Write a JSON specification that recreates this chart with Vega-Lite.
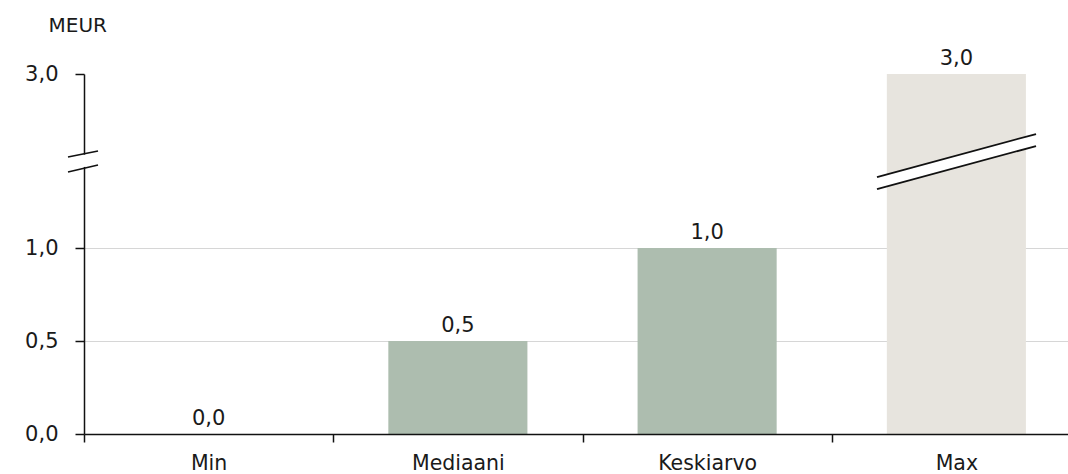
{
  "$schema": "https://vega.github.io/schema/vega-lite/v6.json",
  "autosize": {"type": "none"},
  "padding": {"left": 84, "top": 74, "right": 0, "bottom": 40},
  "width": 984,
  "height": 360,
  "background": "white",
  "config": {
    "view": {"stroke": null},
    "font": "DejaVu Sans",
    "locale": {"number": {"decimal": ",", "thousands": " ", "grouping": [3], "currency": ["", " €"]}}
  },
  "data": {"values": [
    {"stat": "Min", "value": 0.0},
    {"stat": "Mediaani", "value": 0.5},
    {"stat": "Keskiarvo", "value": 1.0},
    {"stat": "Max", "value": 3.0}
  ]},
  "encoding": {
    "x": {
      "field": "stat", "type": "nominal", "sort": null,
      "scale": {"range": [0, 997], "paddingInner": 0, "paddingOuter": 0},
      "axis": {
        "title": null, "labelAngle": 0, "tickBand": "extent", "tickSize": 8,
        "labelPadding": 11, "labelFontSize": 20.5, "labelColor": "#1a1a1a",
        "domainColor": "#111111", "domainWidth": 1.5, "tickColor": "#111111", "tickWidth": 1.5,
        "zindex": 1
      }
    }
  },
  "layer": [
    {
      "mark": {"type": "bar", "width": {"band": 0.558}},
      "encoding": {
        "y": {
          "field": "value", "type": "quantitative",
          "scale": {"domain": [0, 1, 3], "range": [360, 174, 0], "nice": false, "zero": false},
          "axis": {
            "title": "MEUR", "titleAngle": 0, "titleAlign": "left", "titleBaseline": "alphabetic",
            "titleX": -36, "titleY": -43, "titleFontSize": 20, "titleFontWeight": "normal", "titleColor": "#1a1a1a",
            "values": [0, 0.5, 1, 3], "format": ".1f",
            "tickSize": 9, "labelPadding": 17, "labelFontSize": 21, "labelColor": "#1a1a1a",
            "domainColor": "#111111", "domainWidth": 1.5, "tickColor": "#111111", "tickWidth": 1.5,
            "grid": true, "gridColor": "#d6d6d6", "gridWidth": 1,
            "gridOpacity": {"condition": {"test": "datum.value === 3 || datum.value === 0", "value": 0}, "value": 1},
            "zindex": 0
          }
        },
        "color": {"condition": {"test": "datum.stat === 'Max'", "value": "#e7e4de"}, "value": "#adbdaf"}
      }
    },
    {
      "mark": {"type": "text", "baseline": "alphabetic", "dy": -9, "fontSize": 21, "color": "#1a1a1a"},
      "encoding": {
        "y": {"field": "value", "type": "quantitative"},
        "text": {"field": "value", "type": "quantitative", "format": ".1f"}
      }
    },
    {
      "data": {"values": [{}]},
      "mark": {"type": "rule", "color": "white", "strokeWidth": 11.5, "strokeCap": "butt"},
      "encoding": {
        "x": {"datum": "Max", "type": "nominal", "bandPosition": 0.1815},
        "x2": {"datum": "Max", "bandPosition": 0.8195},
        "y": {"datum": 1.747, "type": "quantitative"},
        "y2": {"datum": 2.241}
      }
    },
    {
      "data": {"values": [{}]},
      "mark": {"type": "rule", "color": "#111111", "strokeWidth": 1.8},
      "encoding": {
        "x": {"datum": "Max", "type": "nominal", "bandPosition": 0.1815},
        "x2": {"datum": "Max", "bandPosition": 0.8195},
        "y": {"datum": 1.816, "type": "quantitative"},
        "y2": {"datum": 2.31}
      }
    },
    {
      "data": {"values": [{}]},
      "mark": {"type": "rule", "color": "#111111", "strokeWidth": 1.8},
      "encoding": {
        "x": {"datum": "Max", "type": "nominal", "bandPosition": 0.1815},
        "x2": {"datum": "Max", "bandPosition": 0.8195},
        "y": {"datum": 1.678, "type": "quantitative"},
        "y2": {"datum": 2.172}
      }
    },
    {
      "data": {"values": [{}]},
      "mark": {"type": "rule", "color": "white", "strokeWidth": 12, "strokeCap": "butt"},
      "encoding": {
        "x": {"datum": "Min", "type": "nominal", "bandPosition": -0.0642},
        "x2": {"datum": "Min", "bandPosition": 0.0562},
        "y": {"datum": 1.96, "type": "quantitative"},
        "y2": {"datum": 2.035}
      }
    },
    {
      "data": {"values": [{}]},
      "mark": {"type": "rule", "color": "#111111", "strokeWidth": 1.6},
      "encoding": {
        "x": {"datum": "Min", "type": "nominal", "bandPosition": -0.0642},
        "x2": {"datum": "Min", "bandPosition": 0.0562},
        "y": {"datum": 2.046, "type": "quantitative"},
        "y2": {"datum": 2.115}
      }
    },
    {
      "data": {"values": [{}]},
      "mark": {"type": "rule", "color": "#111111", "strokeWidth": 1.6},
      "encoding": {
        "x": {"datum": "Min", "type": "nominal", "bandPosition": -0.0642},
        "x2": {"datum": "Min", "bandPosition": 0.0562},
        "y": {"datum": 1.874, "type": "quantitative"},
        "y2": {"datum": 1.954}
      }
    }
  ]
}
